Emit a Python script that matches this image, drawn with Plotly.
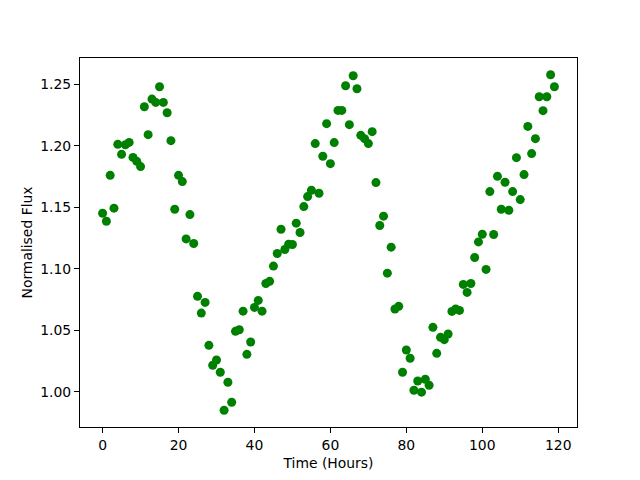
import plotly.graph_objects as go

# Time in hours (one sample per hour)
hours = [
    0, 1, 2, 3, 4, 5, 6, 7, 8, 9, 10, 11, 12, 13, 14, 15, 16, 17, 18, 19,
    20, 21, 22, 23, 24, 25, 26, 27, 28, 29, 30, 31, 32, 33, 34, 35, 36, 37, 38, 39,
    40, 41, 42, 43, 44, 45, 46, 47, 48, 49, 50, 51, 52, 53, 54, 55, 56, 57, 58, 59,
    60, 61, 62, 63, 64, 65, 66, 67, 68, 69, 70, 71, 72, 73, 74, 75, 76, 77, 78, 79,
    80, 81, 82, 83, 84, 85, 86, 87, 88, 89, 90, 91, 92, 93, 94, 95, 96, 97, 98, 99,
    100, 101, 102, 103, 104, 105, 106, 107, 108, 109, 110, 111, 112, 113, 114, 115, 116, 117, 118, 119,
]

# Normalised flux
flux = [
    1.1453, 1.1388, 1.1761, 1.1494, 1.2013, 1.1932, 1.2010, 1.2029, 1.1907, 1.1875,
    1.1832, 1.2319, 1.2092, 1.2381, 1.2354, 1.2481, 1.2354, 1.2270, 1.2043, 1.1485,
    1.1761, 1.1710, 1.1244, 1.1442, 1.1207, 1.0777, 1.0641, 1.0728, 1.0379, 1.0217,
    1.0260, 1.0160, 0.9851, 1.0079, 0.9916, 1.0493, 1.0506, 1.0657, 1.0306, 1.0406,
    1.0687, 1.0744, 1.0657, 1.0882, 1.0899, 1.1023, 1.1126, 1.1323, 1.1158, 1.1201,
    1.1199, 1.1372, 1.1296, 1.1507, 1.1588, 1.1640, 1.2019, 1.1615, 1.1916, 1.2181,
    1.1856, 1.2027, 1.2289, 1.2289, 1.2489, 1.2173, 1.2571, 1.2465, 1.2086, 1.2059,
    1.2019, 1.2116, 1.1702, 1.1353, 1.1429, 1.0966, 1.1177, 1.0674, 1.0696, 1.0160,
    1.0341, 1.0274, 1.0014, 1.0089, 0.9998, 1.0103, 1.0054, 1.0525, 1.0314, 1.0444,
    1.0425, 1.0471, 1.0655, 1.0674, 1.0663, 1.0874, 1.0809, 1.0882, 1.1093, 1.1220,
    1.1282, 1.0996, 1.1629, 1.1280, 1.1753, 1.1485, 1.1705, 1.1477, 1.1629, 1.1905,
    1.1564, 1.1767, 1.2159, 1.1938, 1.2059, 1.2400, 1.2287, 1.2400, 1.2579, 1.2481,
]

x_label = "Time (Hours)"
y_label = "Normalised Flux"

font_family = "DejaVu Sans"
fsize = 13.9

fig = go.Figure()
fig.add_trace(go.Scatter(
    x=hours, y=flux, mode="markers",
    marker=dict(color="#008000", size=9, line=dict(width=0)),
    showlegend=False,
))

axis_common = dict(
    showgrid=False, zeroline=False,
    showline=True, linecolor="black", linewidth=1, mirror=True,
    ticks="outside", ticklen=5, tickwidth=1, tickcolor="black",
    tickfont=dict(family=font_family, size=fsize, color="black"),
)

# The page body adds an 8px offset, so margins are shifted to compensate
fig.update_layout(
    width=640, height=480,
    margin=dict(l=72, r=71, t=50, b=61, pad=0),
    paper_bgcolor="white", plot_bgcolor="white",
    font=dict(family=font_family, size=fsize, color="black"),
    xaxis=dict(
        range=[-5.95, 124.95], tickmode="linear", tick0=0, dtick=20,
        title=dict(text=x_label, font=dict(family=font_family, size=fsize, color="black"), standoff=6),
        **axis_common,
    ),
    yaxis=dict(
        range=[0.9715, 1.2715], tickmode="linear", tick0=1.0, dtick=0.05, tickformat=".2f",
        title=dict(text=y_label, font=dict(family=font_family, size=fsize, color="black"), standoff=4),
        **axis_common,
    ),
)

fig.write_html("out.html")
